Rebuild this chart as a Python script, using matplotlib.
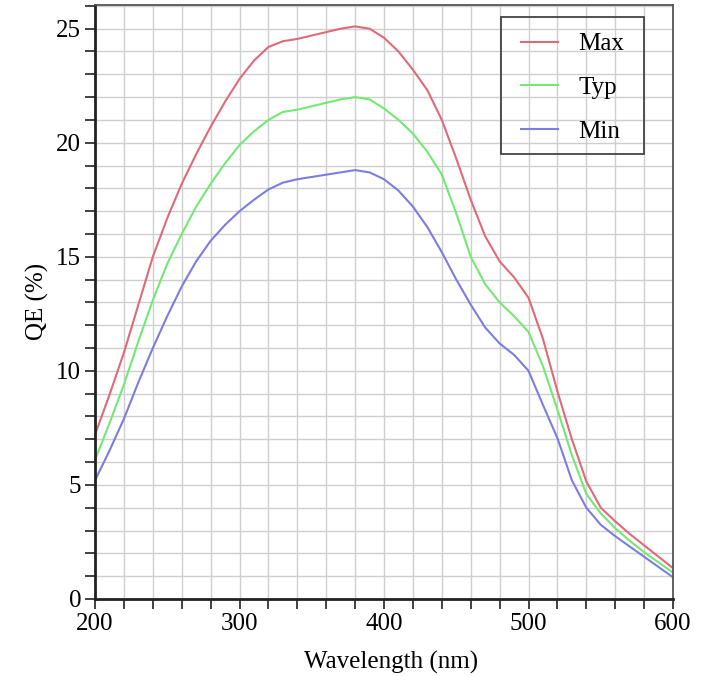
import matplotlib
matplotlib.use("Agg")
import matplotlib.pyplot as plt
from matplotlib.patches import Rectangle
from matplotlib.ticker import MultipleLocator

wavelength = [200, 210, 220, 230, 240, 250, 260, 270, 280, 290, 300,
              310, 320, 330, 340, 350, 360, 370, 380, 390, 400,
              410, 420, 430, 440, 450, 460, 470, 480, 490, 500,
              510, 520, 530, 540, 550, 560, 570, 580, 590, 600]

qe_max = [7.2, 8.95, 10.8, 12.9, 15.0, 16.7, 18.2, 19.5, 20.7, 21.8, 22.8,
          23.6, 24.2, 24.45, 24.55, 24.7, 24.85, 25.0, 25.1, 25.0, 24.6,
          24.0, 23.2, 22.3, 21.0, 19.3, 17.5, 15.9, 14.8, 14.1, 13.2,
          11.4, 9.1, 7.0, 5.15, 4.0, 3.4, 2.85, 2.35, 1.85, 1.35]

qe_typ = [6.1, 7.7, 9.4, 11.3, 13.1, 14.7, 16.0, 17.2, 18.2, 19.1, 19.9,
          20.5, 21.0, 21.35, 21.45, 21.6, 21.75, 21.9, 22.0, 21.9, 21.5,
          21.0, 20.4, 19.6, 18.6, 16.9, 15.0, 13.8, 13.0, 12.4, 11.7,
          10.2, 8.3, 6.3, 4.6, 3.75, 3.1, 2.55, 2.05, 1.6, 1.15]

qe_min = [5.2, 6.5, 7.9, 9.5, 11.0, 12.4, 13.7, 14.8, 15.7, 16.4, 17.0,
          17.5, 17.95, 18.25, 18.4, 18.5, 18.6, 18.7, 18.8, 18.7, 18.4,
          17.9, 17.2, 16.3, 15.2, 14.0, 12.9, 11.9, 11.2, 10.7, 10.0,
          8.5, 7.05, 5.2, 4.0, 3.25, 2.75, 2.3, 1.85, 1.4, 0.95]

series = [("Max", qe_max, "#e0697a"), ("Typ", qe_typ, "#74e874"), ("Min", qe_min, "#7d7de0")]

plt.rcParams["font.family"] = ["Liberation Serif", "DejaVu Serif"]
plt.rcParams["font.size"] = 18

W, H = 704, 676
fig = plt.figure(figsize=(W / 100, H / 100), dpi=100)
ax = fig.add_axes([0.135, 0.114, 0.821, 0.879])

for name, values, color in series:
    ax.plot(wavelength, values, color=color, lw=1.5, label=name)

ax.set_xlim(200, 600)
ax.set_ylim(0, 26.05)
ax.xaxis.set_major_locator(MultipleLocator(100))
ax.xaxis.set_minor_locator(MultipleLocator(20))
ax.yaxis.set_major_locator(MultipleLocator(5))
ax.yaxis.set_minor_locator(MultipleLocator(1))
ax.grid(which="both", color="#cfcfcf", lw=1.0)
ax.set_axisbelow(True)
ax.tick_params(which="both", direction="out", length=7, width=1.3, color="#333333")
ax.tick_params(axis="both", labelsize=18, pad=3)

for side in ["left", "bottom"]:
    ax.spines[side].set_linewidth(2.0)
    ax.spines[side].set_color("#222222")
for side in ["top", "right"]:
    ax.spines[side].set_linewidth(1.3)
    ax.spines[side].set_color("#555555")

ax.set_xlabel("Wavelength (nm)", fontsize=18)
ax.set_ylabel("QE (%)", fontsize=18, labelpad=5)
ax.xaxis.set_label_coords(0.512, -0.088)

# legend without its own frame; box drawn separately to get the wide side padding
ax.legend(loc="upper left", bbox_to_anchor=(507 / W, 1 - 19 / H),
          bbox_transform=fig.transFigure, borderaxespad=0, frameon=False,
          handlelength=1.5, handletextpad=0.8, labelspacing=0.85, borderpad=0.55)
fig.patches.append(Rectangle((501 / W, 1 - 154 / H), 143 / W, 137 / H,
                             transform=fig.transFigure, fill=False,
                             ec="#444444", lw=1.3))

fig.savefig("out.png", dpi=100)
